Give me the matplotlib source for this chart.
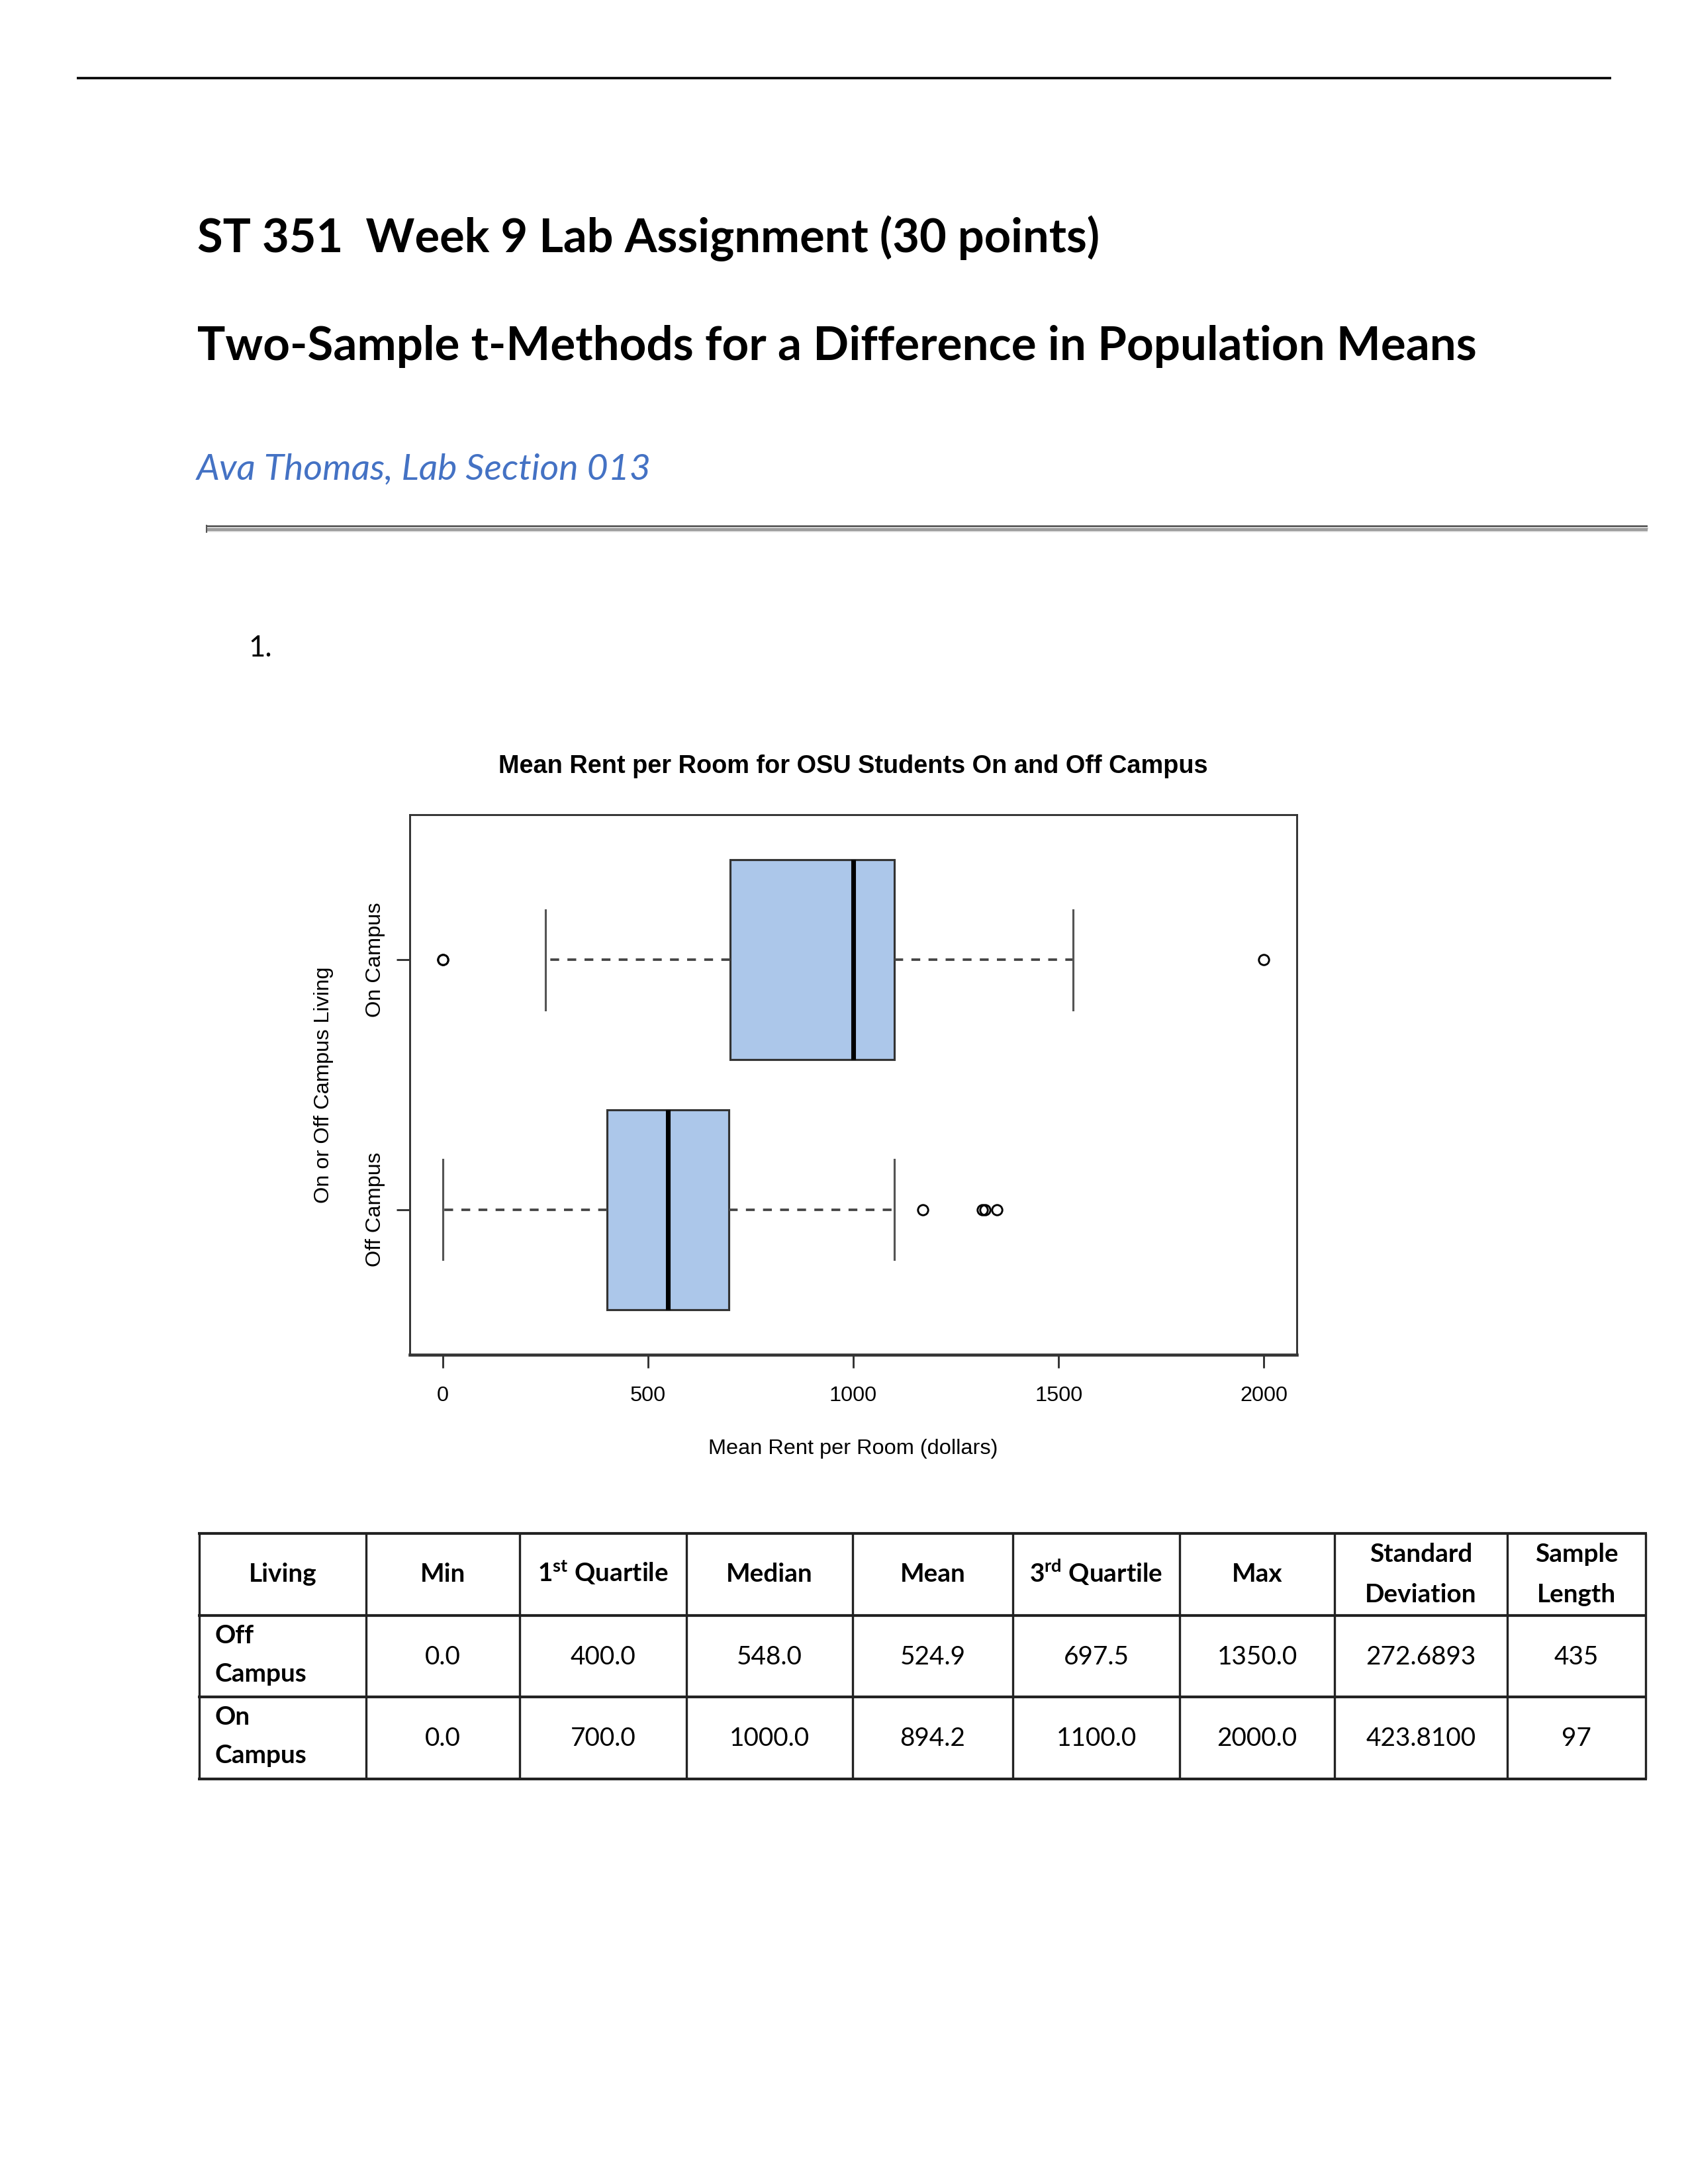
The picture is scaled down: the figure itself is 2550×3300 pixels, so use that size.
import matplotlib
matplotlib.use("Agg")
import matplotlib.pyplot as plt

# summary statistics from the table
groups = ["Off Campus", "On Campus"]
stat_min = [0.0, 0.0]
stat_q1 = [400.0, 700.0]
stat_median = [548.0, 1000.0]
stat_mean = [524.9, 894.2]
stat_q3 = [697.5, 1100.0]
stat_max = [1350.0, 2000.0]
stat_sd = [272.6893, 423.8100]
stat_n = [435, 97]

# whisker ends and outliers
whisker_low = [0, 250]
whisker_high = [1100, 1535]
outliers = [[1170, 1315, 1320, 1350], [0, 0, 2000]]

x_ticks = [0, 500, 1000, 1500, 2000]

header_labels = ["Living", "Min", r"1$^{\mathbf{st}}$ Quartile", "Median", "Mean",
                 r"3$^{\mathbf{rd}}$ Quartile", "Max", "Standard\nDeviation", "Sample\nLength"]
row_labels = ["Off\nCampus", "On\nCampus"]

plt.rcParams['mathtext.fontset'] = 'custom'
plt.rcParams['mathtext.rm'] = 'Lato'
plt.rcParams['mathtext.bf'] = 'Lato:bold'
plt.rcParams['lines.scale_dashes'] = False

W, H = 2550, 3300
fig = plt.figure(figsize=(8.5, 11), dpi=300)

# page layer in pixel coordinates
page = fig.add_axes([0, 0, 1, 1])
page.set_xlim(0, W)
page.set_ylim(H, 0)
page.axis('off')

page.plot([116, 2434], [117.5, 117.5], color='black', lw=0.85, solid_capstyle='butt')

page.text(298, 381, "ST 351  Week 9 Lab Assignment (30 points)", family='Lato',
          weight='bold', fontsize=16.9, va='baseline')
page.text(298, 544, "Two-Sample t-Methods for a Difference in Population Means", family='Lato',
          weight='bold', fontsize=17.0, va='baseline')
page.text(297, 725, "Ava Thomas, Lab Section 013", family='Lato', style='italic',
          fontsize=13.3, color='#4472C4', va='baseline')

# word style horizontal rule
for y, lw, c in [(795, 0.5, '#333333'), (797.5, 0.7, '#a8a8a8'), (799.5, 0.25, '#ffffff'),
                 (801, 0.45, '#8a8a8a'), (803, 0.45, '#d6d6d6')]:
    page.plot([311, 2489], [y, y], color=c, lw=lw, solid_capstyle='butt')
page.plot([311.5, 311.5], [794, 804], color='#555555', lw=0.5)

page.text(375, 992, "1.", family='Lato', fontsize=10.5, va='baseline')

# table
col_edges = [301, 553, 785, 1037, 1288, 1530, 1782, 2016, 2277, 2486]
row_edges = [2317, 2441, 2564, 2688]
for y in row_edges:
    page.plot([col_edges[0] - 2, col_edges[-1] + 2], [y, y], color='#222222', lw=1.0,
              solid_capstyle='butt')
for x in col_edges:
    page.plot([x, x], [row_edges[0], row_edges[-1]], color='#222222', lw=0.8,
              solid_capstyle='butt')

centers = [(a + b) / 2 for a, b in zip(col_edges[:-1], col_edges[1:])]
for cx, lab in zip(centers, header_labels):
    lines = lab.split("\n")
    if len(lines) == 1:
        page.text(cx, 2390, lab, family='Lato', weight='bold', fontsize=9.3,
                  ha='center', va='baseline')
    else:
        for ln, y in zip(lines, [2360, 2421]):
            page.text(cx, y, ln, family='Lato', weight='bold', fontsize=9.3,
                      ha='center', va='baseline')

for i in range(len(groups)):
    top = row_edges[i + 1]
    first, second = row_labels[i].split("\n")
    page.text(324, top + 42, first, family='Lato', weight='bold', fontsize=9.3, va='baseline')
    page.text(324, top + 100, second, family='Lato', weight='bold', fontsize=9.3, va='baseline')
    vals = [f"{stat_min[i]:.1f}", f"{stat_q1[i]:.1f}", f"{stat_median[i]:.1f}",
            f"{stat_mean[i]:.1f}", f"{stat_q3[i]:.1f}", f"{stat_max[i]:.1f}",
            f"{stat_sd[i]:.4f}", f"{stat_n[i]}"]
    for cx, v in zip(centers[1:], vals):
        page.text(cx, top + 74, v, family='Lato', fontsize=9.3, ha='center', va='baseline')

# boxplot
ax = fig.add_axes([619 / W, 1 - 2047 / H, (1959 - 619) / W, (2047 - 1231) / H])
stats = []
for i in range(len(groups)):
    stats.append(dict(label=groups[i], whislo=whisker_low[i], q1=stat_q1[i],
                      med=stat_median[i], q3=stat_q3[i], whishi=whisker_high[i],
                      fliers=outliers[i]))

ax.bxp(stats, positions=[1, 2], widths=0.8, capwidths=0.4, orientation='horizontal',
       patch_artist=True,
       boxprops=dict(facecolor='#ACC7EA', edgecolor='#333333', linewidth=0.75),
       whiskerprops=dict(color='#444444', linewidth=0.9, linestyle=(0, (3.2, 3.0))),
       capprops=dict(color='#555555', linewidth=0.75),
       medianprops=dict(color='black', linewidth=1.7, solid_capstyle='butt'),
       flierprops=dict(marker='o', markerfacecolor='none', markeredgecolor='black',
                       markersize=3.7, markeredgewidth=0.7))

ax.set_xlim(-80, 2080)
ax.set_ylim(0.42, 2.58)
ax.set_xticks(x_ticks)
ax.set_xticklabels([str(t) for t in x_ticks])
ax.set_yticks([1, 2])
ax.set_yticklabels(groups, rotation=90, va='center')

rfont = 'Liberation Sans'
for lab in ax.get_xticklabels() + ax.get_yticklabels():
    lab.set_family(rfont)
ax.tick_params(axis='both', length=4.8, width=0.7, color='#333333', labelsize=7.8)
ax.tick_params(axis='x', pad=6.5)
ax.tick_params(axis='y', pad=4)
for s in ax.spines.values():
    s.set_linewidth(0.7)
    s.set_color('#333333')
ax.spines['bottom'].set_linewidth(1.1)

ax.set_title("Mean Rent per Room for OSU Students On and Off Campus", family=rfont,
             weight='bold', fontsize=9.1, pad=15)
ax.set_xlabel("Mean Rent per Room (dollars)", family=rfont, fontsize=7.8, labelpad=12)
ax.set_ylabel("On or Off Campus Living", family=rfont, fontsize=7.8, labelpad=11.5)

fig.savefig("out.png", dpi=300)
